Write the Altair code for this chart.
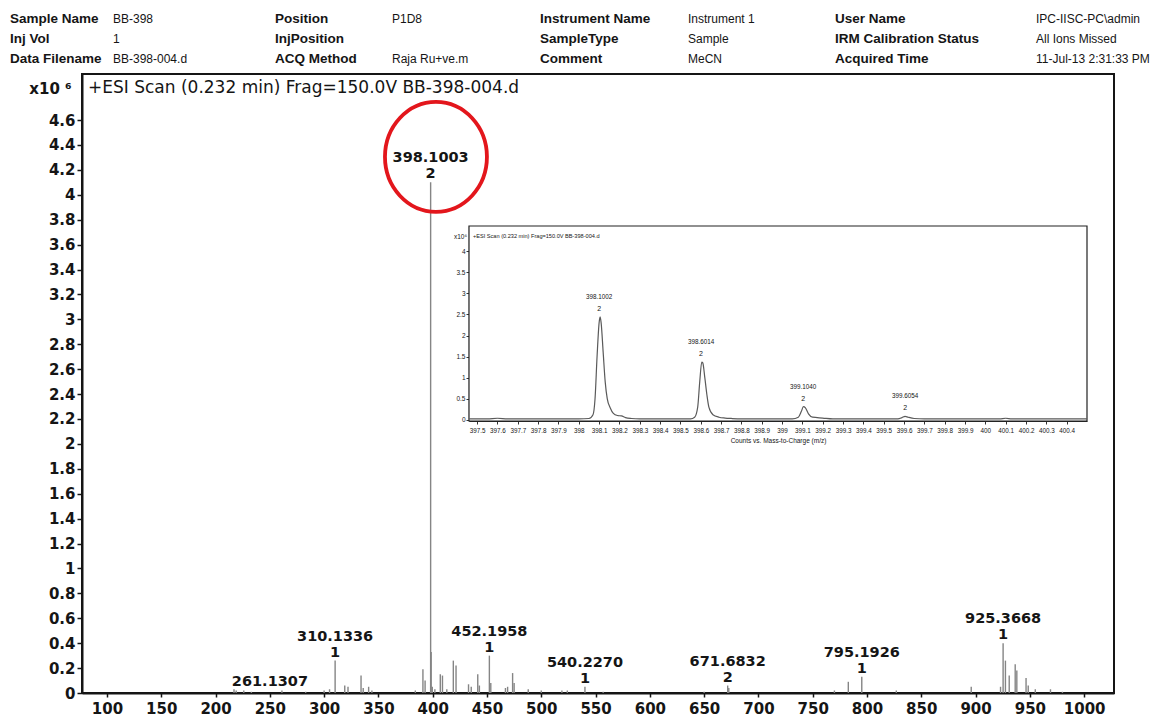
import altair as alt
import pandas as pd

# ---------------- data ----------------
# main stick spectrum (m/z, counts x10^6)
main_mz = [217, 219, 226, 233, 261.1307, 283, 300, 305, 310.1336, 319, 322, 334, 336, 341, 344,
           384, 391, 393, 398.1003, 398.6014, 399.6, 402, 407, 409, 413, 419, 421.5, 433, 435.5,
           441.5, 443, 452.1958, 453.5, 467, 469, 473.6, 475, 488, 500, 519, 524, 540.2270, 557,
           650, 671.6832, 672.7, 770, 782.8, 795.1926, 827, 896, 923, 925.3668, 927.5, 931, 936.5,
           938, 946.5, 948.5, 955, 969, 980]
main_int = [0.03, 0.02, 0.02, 0.01, 0.02, 0.01, 0.02, 0.03, 0.26, 0.06, 0.05, 0.14, 0.04, 0.05, 0.02,
            0.02, 0.19, 0.10, 4.10, 0.33, 0.05, 0.03, 0.15, 0.14, 0.03, 0.26, 0.22, 0.07, 0.05,
            0.15, 0.06, 0.30, 0.08, 0.04, 0.05, 0.16, 0.08, 0.03, 0.02, 0.02, 0.02, 0.05, 0.01,
            0.01, 0.06, 0.04, 0.02, 0.09, 0.13, 0.02, 0.05, 0.05, 0.40, 0.26, 0.14, 0.23,
            0.18, 0.12, 0.06, 0.03, 0.03, 0.01]

label_mz = [310.1336, 398.1003, 452.1958, 540.2270, 671.6832, 795.1926, 925.3668]
label_int = [0.26, 4.10, 0.30, 0.05, 0.06, 0.13, 0.40]
label_charge = ["1", "2", "1", "1", "2", "1", "1"]
lone_mz = [261.1307]
lone_int = [0.02]

ring_mz = [403.0]
ring_int = [4.305]

x_ticks = [100, 150, 200, 250, 300, 350, 400, 450, 500, 550, 600, 650, 700, 750,
           800, 850, 900, 950, 1000]
y_ticks = [0, 0.2, 0.4, 0.6, 0.8, 1, 1.2, 1.4, 1.6, 1.8, 2, 2.2, 2.4, 2.6, 2.8, 3,
           3.2, 3.4, 3.6, 3.8, 4, 4.2, 4.4, 4.6]

# inset profile spectrum
inset_mz = [397.46, 397.55, 397.6, 397.65, 397.8, 398.0, 398.05, 398.07, 398.08, 398.09, 398.1,
            398.105, 398.11, 398.12, 398.13, 398.14, 398.155, 398.17, 398.19, 398.21, 398.23,
            398.26, 398.3, 398.55, 398.57, 398.585, 398.595, 398.605, 398.61, 398.62, 398.63,
            398.64, 398.66, 398.69, 398.72, 398.75, 398.8, 399.05, 399.08, 399.095, 399.105,
            399.115, 399.13, 399.15, 399.2, 399.25, 399.57, 399.59, 399.605, 399.62, 399.65,
            399.7, 400.07, 400.1, 400.13, 400.5]
inset_int = [0.02, 0.02, 0.035, 0.02, 0.02, 0.02, 0.03, 0.12, 0.5, 1.5, 2.3,
             2.44, 2.3, 1.6, 0.9, 0.5, 0.28, 0.15, 0.1, 0.09, 0.05,
             0.03, 0.02, 0.02, 0.06, 0.3, 0.9, 1.37, 1.35, 1.0, 0.6,
             0.3, 0.12, 0.06, 0.04, 0.03, 0.02, 0.02, 0.06, 0.2, 0.31,
             0.28, 0.14, 0.06, 0.04, 0.02, 0.02, 0.05, 0.08, 0.06, 0.03,
             0.02, 0.02, 0.035, 0.02, 0.02]
inset_label_mz = [398.1002, 398.6014, 399.1040, 399.6054]
inset_label_int = [2.44, 1.37, 0.31, 0.08]
inset_label_charge = ["2", "2", "2", "2"]
inset_x_ticks = [397.5, 397.6, 397.7, 397.8, 397.9, 398.0, 398.1, 398.2, 398.3, 398.4,
                 398.5, 398.6, 398.7, 398.8, 398.9, 399.0, 399.1, 399.2, 399.3, 399.4,
                 399.5, 399.6, 399.7, 399.8, 399.9, 400.0, 400.1, 400.2, 400.3, 400.4]
inset_y_ticks = [0, 0.5, 1, 1.5, 2, 2.5, 3, 3.5, 4]
inset_x_domain = [397.46, 400.5]
inset_y_domain = [-0.03, 4.6]

header_labels = [["Sample Name", "Inj Vol", "Data Filename"],
                 ["Position", "InjPosition", "ACQ Method"],
                 ["Instrument Name", "SampleType", "Comment"],
                 ["User Name", "IRM Calibration Status", "Acquired Time"]]
header_values = [["BB-398", "1", "BB-398-004.d"],
                 ["P1D8", "", "Raja Ru+ve.m"],
                 ["Instrument 1", "Sample", "MeCN"],
                 ["IPC-IISC-PC\\admin", "All Ions Missed", "11-Jul-13 2:31:33 PM"]]

main_title = "+ESI Scan (0.232 min) Frag=150.0V BB-398-004.d"
inset_title = "+ESI Scan (0.232 min) Frag=150.0V BB-398-004.d"
inset_xtitle = "Counts vs. Mass-to-Charge (m/z)"

# ---------------- layout / style ----------------
W, H = 1032, 619
FONT = "DejaVu Sans"
HFONT = "Liberation Sans"
SMALL = "Liberation Sans"
INK = "#151515"

# ---------------- main spectrum ----------------
main_df = pd.DataFrame({"mz": main_mz, "intensity": main_int, "base": [0.0] * len(main_mz)})

x_main = alt.X("mz:Q",
               scale=alt.Scale(domain=[77, 1027.5], nice=False, zero=False),
               axis=alt.Axis(values=x_ticks, format="d", orient="bottom", title=None, grid=False,
                             labelFont=FONT, labelFontWeight="bold", labelFontSize=15,
                             labelColor=INK, tickSize=4, tickColor=INK, tickWidth=1.5,
                             domainColor=INK, domainWidth=2, labelPadding=4,
                             labelFlush=False, labelOverlap=False))
y_main = alt.Y("intensity:Q",
               scale=alt.Scale(domain=[0, 4.97], nice=False, zero=False),
               axis=alt.Axis(values=y_ticks, format="~g", orient="left", grid=False,
                             title="x10 \u2076", titleAngle=0, titleX=-32, titleY=14,
                             titleAlign="center", titleBaseline="middle", titleFont=FONT,
                             titleFontWeight="bold", titleFontSize=15, titleColor=INK,
                             labelFont=FONT, labelFontWeight="bold", labelFontSize=15,
                             labelColor=INK, tickSize=5, tickColor=INK, tickWidth=1.5,
                             domainColor=INK, domainWidth=2, labelPadding=2,
                             labelFlush=False, labelOverlap=False))

sticks = alt.Chart(main_df).mark_rule(color="#858585", strokeWidth=1.4).encode(
    x=x_main, y=y_main, y2="base:Q")

lab_df = pd.DataFrame({"mz": label_mz, "intensity": label_int,
                       "name": [f"{v:.4f}" for v in label_mz], "charge": label_charge})
names = alt.Chart(lab_df).mark_text(font=FONT, fontWeight="bold", fontSize=14.5, dy=-24,
                                    baseline="middle", color=INK).encode(
    x=x_main, y=y_main, text="name:N")
charges = alt.Chart(lab_df).mark_text(font=FONT, fontWeight="bold", fontSize=14.5, dy=-8,
                                      baseline="middle", color=INK).encode(
    x=x_main, y=y_main, text="charge:N")
lone_df = pd.DataFrame({"mz": lone_mz, "intensity": lone_int,
                        "name": [f"{v:.4f}" for v in lone_mz]})
lone = alt.Chart(lone_df).mark_text(font=FONT, fontWeight="bold", fontSize=14.5, dy=-9, dx=-12,
                                    baseline="middle", color=INK).encode(
    x=x_main, y=y_main, text="name:N")

ring_df = pd.DataFrame({"mz": ring_mz, "intensity": ring_int})
ring = alt.Chart(ring_df).mark_point(
    shape="M -0.927 0 A 0.927 1 0 1 0 0.927 0 A 0.927 1 0 1 0 -0.927 0 Z",
    size=12100, filled=False, stroke="#e3161c", strokeWidth=3.8, opacity=1).encode(
    x=x_main, y=y_main)

main_layer = alt.layer(sticks, names, charges, lone, ring)

# ---------------- inset ----------------
x_in = alt.X("mz:Q",
             scale=alt.Scale(domain=inset_x_domain, range=[387, 1005], nice=False, zero=False),
             axis=alt.Axis(values=inset_x_ticks, format="~f", orient="bottom", offset=-272,
                           grid=False, title=inset_xtitle, titleFont=SMALL,
                           titleFontWeight="normal", titleFontSize=6.5, titleColor=INK,
                           titlePadding=4, labelFont=SMALL, labelFontSize=6.3,
                           labelColor=INK, tickSize=3, tickColor="#333", domainColor="#222",
                           domainWidth=1.2, labelPadding=3, labelFlush=False,
                           labelOverlap=False))
y_in = alt.Y("intensity:Q",
             scale=alt.Scale(domain=inset_y_domain, range=[347, 152], nice=False, zero=False),
             axis=alt.Axis(values=inset_y_ticks, format="~g", orient="left", offset=-387,
                           grid=False, title="x10\u2076", titleAngle=0, titleX=-9, titleY=162,
                           titleAlign="center", titleBaseline="middle", titleFont=SMALL,
                           titleFontWeight="normal", titleFontSize=6.5, titleColor=INK,
                           labelFont=SMALL, labelFontSize=6.5, labelColor=INK, tickSize=3,
                           tickColor="#333", domainColor="#222", domainWidth=1.2,
                           labelPadding=1, labelFlush=False, labelOverlap=False))

inset_df = pd.DataFrame({"mz": inset_mz, "intensity": inset_int})
profile = alt.Chart(inset_df).mark_line(color="#5a5a5a", strokeWidth=1.2,
                                        interpolate="monotone").encode(
    x=x_in, y=y_in, order="mz:Q")

box_df = pd.DataFrame({"mz": [inset_x_domain[0]], "mz2": [inset_x_domain[1]],
                       "intensity": [inset_y_domain[0]], "int2": [inset_y_domain[1]]})
box = alt.Chart(box_df).mark_rect(fill="white", stroke="#222", strokeWidth=1.2).encode(
    x=x_in, x2="mz2:Q", y=y_in, y2="int2:Q")

ilab_df = pd.DataFrame({"mz": inset_label_mz, "intensity": inset_label_int,
                        "name": [f"{v:.4f}" for v in inset_label_mz],
                        "charge": inset_label_charge})
inames = alt.Chart(ilab_df).mark_text(font=SMALL, fontSize=6.3, dy=-20, baseline="middle",
                                      color=INK).encode(x=x_in, y=y_in, text="name:N")
icharges = alt.Chart(ilab_df).mark_text(font=SMALL, fontSize=7, dy=-8, baseline="middle",
                                        color=INK).encode(x=x_in, y=y_in, text="charge:N")
ititle = alt.Chart(pd.DataFrame({"t": [inset_title]})).mark_text(
    font=SMALL, fontSize=5.6, align="left", baseline="middle", color=INK).encode(
    x=alt.value(391), y=alt.value(162), text="t:N")

inset_layer = alt.layer(box, profile, inames, icharges, ititle)

# ---------------- header & main title ----------------
label_x = [-72, 193, 458, 753]
value_x = [31, 310, 606, 954]
y_row = alt.Y("row:Q", scale=alt.Scale(domain=[0, 2], range=[-55, -15]), axis=None)
header_parts = []
for c in range(4):
    dfc = pd.DataFrame({"row": [0, 1, 2], "label": header_labels[c], "value": header_values[c]})
    header_parts.append(alt.Chart(dfc).mark_text(
        font=HFONT, fontWeight="bold", fontSize=13.5, align="left", baseline="middle",
        color=INK).encode(x=alt.value(label_x[c]), y=y_row, text="label:N"))
    header_parts.append(alt.Chart(dfc).mark_text(
        font=HFONT, fontSize=12, align="left", baseline="middle",
        color=INK).encode(x=alt.value(value_x[c]), y=y_row, text="value:N"))
header_layer = alt.layer(*header_parts)

title_layer = alt.Chart(pd.DataFrame({"t": [main_title]})).mark_text(
    font=FONT, fontSize=17, align="left", baseline="middle", color=INK).encode(
    x=alt.value(6), y=alt.value(14), text="t:N")

chart = alt.layer(main_layer, inset_layer, header_layer, title_layer).resolve_scale(
    x="independent", y="independent"
).properties(
    width=W, height=H,
    padding={"left": 74, "top": 66, "right": 45, "bottom": 26},
    autosize=alt.AutoSizeParams(type="none"),
    background="white",
).configure_view(stroke=INK, strokeWidth=2)

chart.save("out.html", embed_options={"renderer": "svg", "actions": False})
